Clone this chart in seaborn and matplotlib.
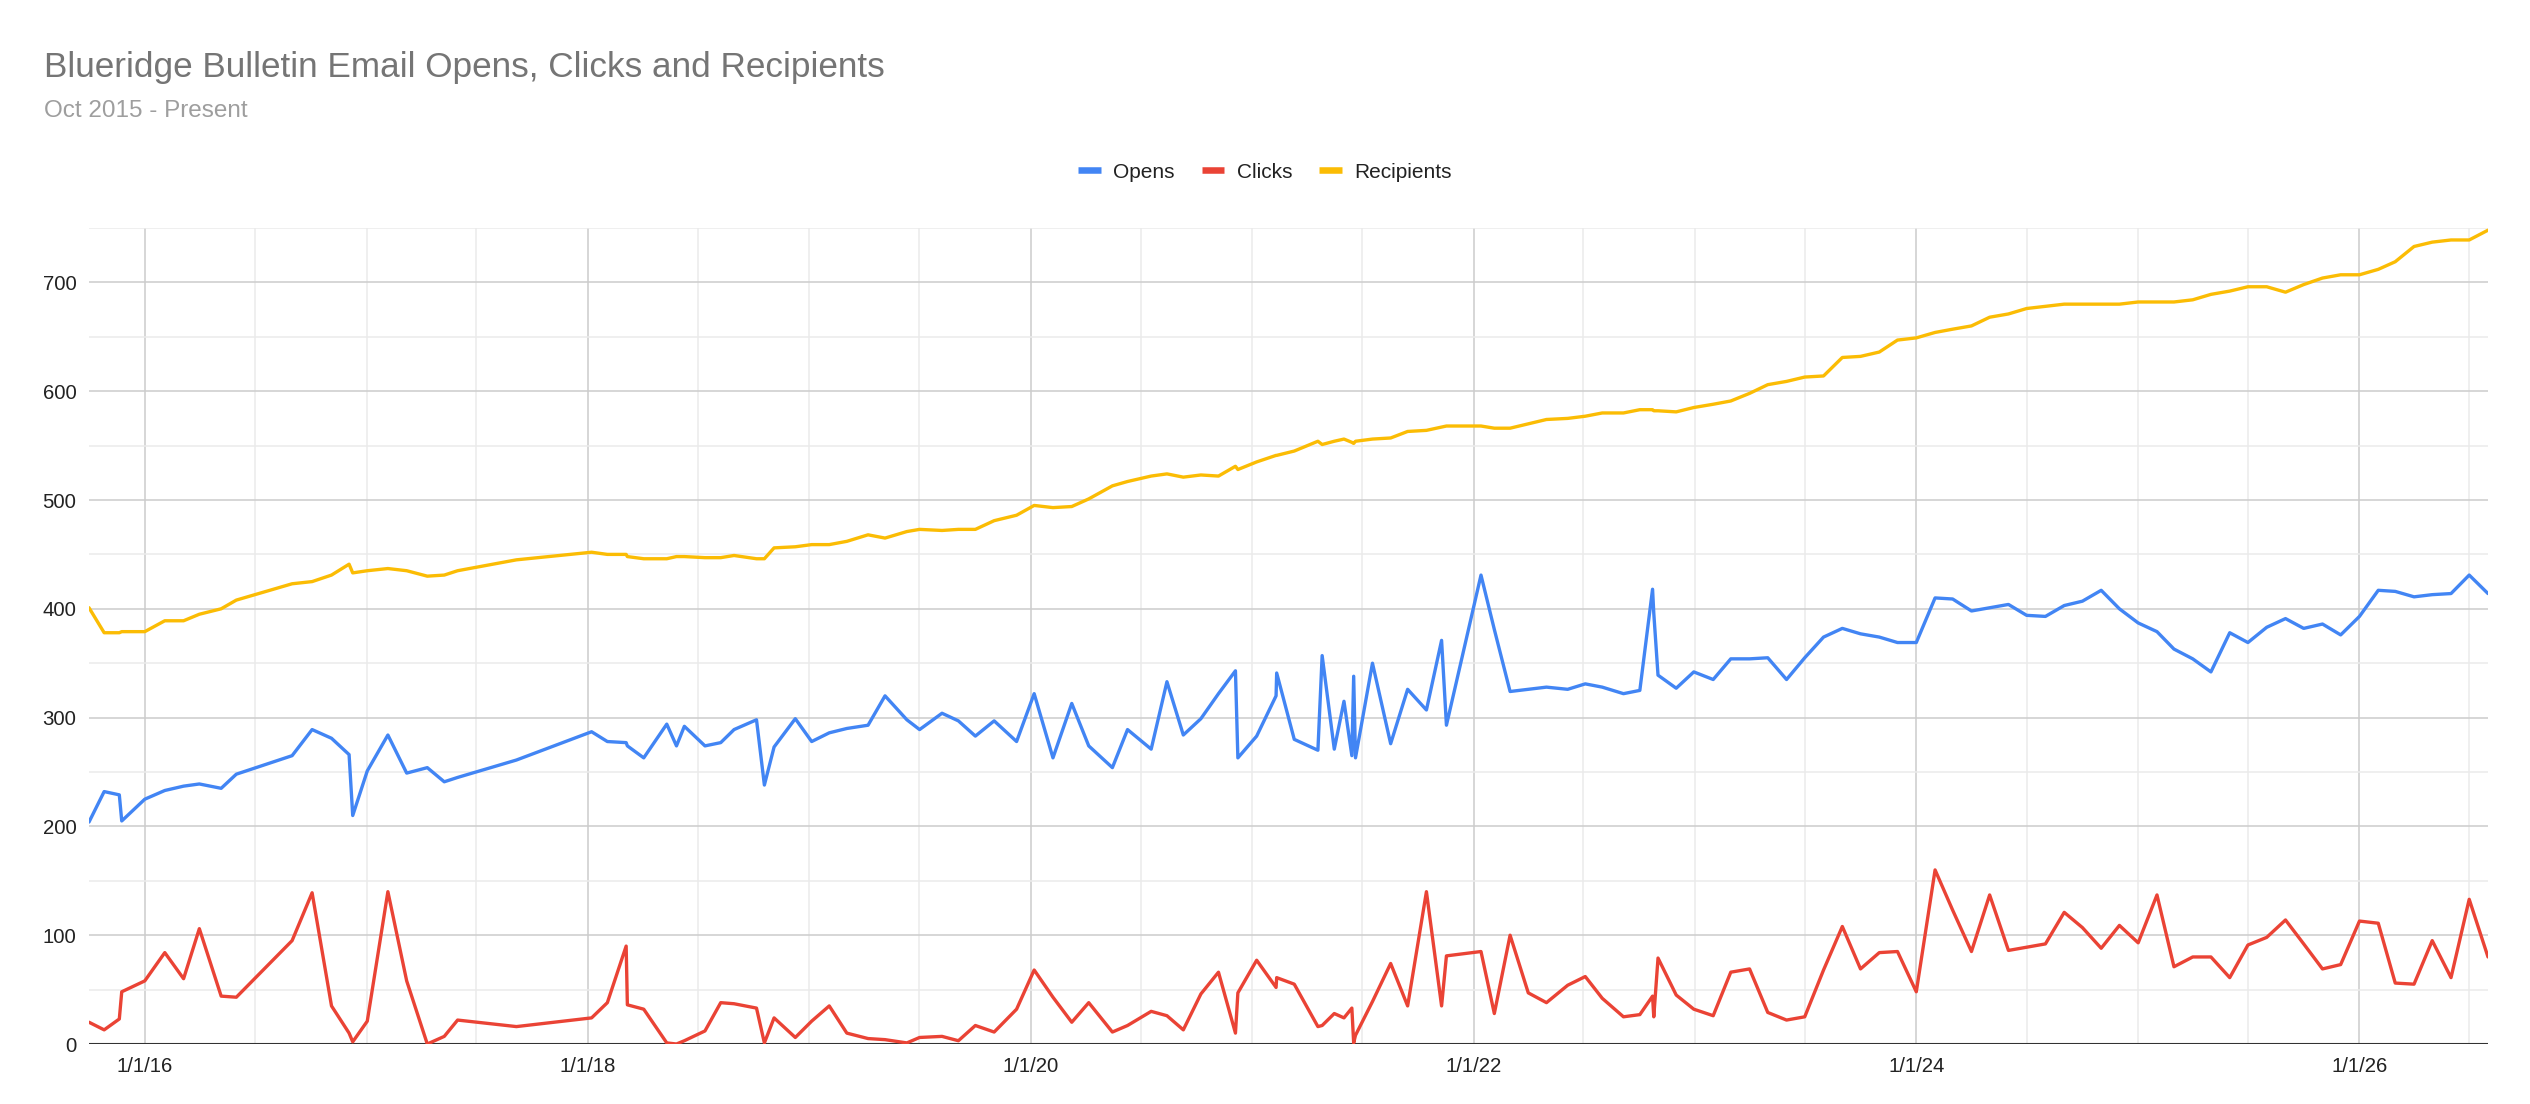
import matplotlib
matplotlib.use("Agg")
import matplotlib.pyplot as plt
import matplotlib.dates as mdates
from matplotlib.ticker import MultipleLocator, FuncFormatter, NullFormatter
from matplotlib.lines import Line2D
import seaborn as sns
import pandas as pd

# ---------------- data ----------------
title = "Blueridge Bulletin Email Opens, Clicks and Recipients"
subtitle = "Oct 2015 - Present"
series_names = ["Opens", "Clicks", "Recipients"]
series_colors = ["#4285F4", "#EA4335", "#FBBC04"]

dates = [
    "2015-10-01", "2015-10-26", "2015-11-20", "2015-11-24", "2016-01-01", "2016-02-03", "2016-03-05", "2016-03-31",
    "2016-05-06", "2016-05-31", "2016-08-31", "2016-10-03", "2016-11-04", "2016-12-03", "2016-12-09", "2017-01-02",
    "2017-02-05", "2017-03-08", "2017-04-11", "2017-05-09", "2017-05-31", "2017-09-05", "2018-01-07", "2018-02-02",
    "2018-03-05", "2018-03-07", "2018-04-03", "2018-05-11", "2018-05-27", "2018-06-09", "2018-07-13", "2018-08-08",
    "2018-08-30", "2018-10-06", "2018-10-19", "2018-11-04", "2018-12-09", "2019-01-05", "2019-02-03", "2019-03-04",
    "2019-04-08", "2019-05-06", "2019-06-11", "2019-07-02", "2019-08-08", "2019-09-04", "2019-10-02", "2019-11-02",
    "2019-12-09", "2020-01-07", "2020-02-07", "2020-03-09", "2020-04-06", "2020-05-15", "2020-06-09", "2020-07-18",
    "2020-08-13", "2020-09-09", "2020-10-08", "2020-11-06", "2020-12-04", "2020-12-08", "2021-01-08", "2021-02-09",
    "2021-02-10", "2021-03-11", "2021-04-19", "2021-04-26", "2021-05-16", "2021-06-01", "2021-06-14", "2021-06-17",
    "2021-06-20", "2021-07-18", "2021-08-17", "2021-09-14", "2021-10-15", "2021-11-09", "2021-11-17", "2022-01-13",
    "2022-02-04", "2022-03-02", "2022-04-01", "2022-05-01", "2022-06-05", "2022-07-04", "2022-08-01", "2022-09-05",
    "2022-10-02", "2022-10-23", "2022-10-25", "2022-11-01", "2022-12-01", "2022-12-30", "2023-01-31", "2023-03-01",
    "2023-04-01", "2023-05-01", "2023-06-01", "2023-07-01", "2023-08-01", "2023-09-01", "2023-10-01", "2023-11-01",
    "2023-12-01", "2024-01-01", "2024-02-01", "2024-03-01", "2024-04-01", "2024-05-01", "2024-06-01", "2024-07-01",
    "2024-08-01", "2024-09-01", "2024-10-01", "2024-11-01", "2024-12-01", "2025-01-01", "2025-02-01", "2025-03-01",
    "2025-04-01", "2025-05-01", "2025-06-01", "2025-07-01", "2025-08-01", "2025-09-01", "2025-10-01", "2025-11-01",
    "2025-12-01", "2026-01-01", "2026-02-01", "2026-03-01", "2026-04-01", "2026-05-01", "2026-06-01", "2026-07-01",
    "2026-08-01",
]

opens = [
    204, 232, 229, 205, 225, 233, 237, 239, 235, 248, 265, 289, 281, 266, 210, 251,
    284, 249, 254, 241, 245, 261, 287, 278, 277, 274, 263, 294, 274, 292, 274, 277,
    289, 298, 238, 273, 299, 278, 286, 290, 293, 320, 298, 289, 304, 297, 283, 297,
    278, 322, 263, 313, 274, 254, 289, 271, 333, 284, 299, 322, 343, 263, 283, 320,
    341, 280, 270, 357, 271, 315, 265, 338, 263, 350, 276, 326, 307, 371, 293, 431,
    381, 324, 326, 328, 326, 331, 328, 322, 325, 418, 396, 339, 327, 342, 335, 354,
    354, 355, 335, 355, 374, 382, 377, 374, 369, 369, 410, 409, 398, 401, 404, 394,
    393, 403, 407, 417, 400, 387, 379, 363, 354, 342, 378, 369, 383, 391, 382, 386,
    376, 393, 417, 416, 411, 413, 414, 431, 414,
]

clicks = [
    20, 13, 23, 48, 58, 84, 60, 106, 44, 43, 95, 139, 35, 10, 2, 21,
    140, 58, 0, 7, 22, 16, 24, 38, 90, 36, 32, 1, 0, 3, 12, 38,
    37, 33, 1, 24, 6, 21, 35, 10, 5, 4, 1, 6, 7, 3, 17, 11,
    32, 68, 43, 20, 38, 11, 17, 30, 26, 13, 46, 66, 10, 47, 77, 52,
    61, 55, 16, 17, 28, 24, 33, 1, 8, 39, 74, 35, 140, 35, 81, 85,
    28, 100, 47, 38, 54, 62, 42, 25, 27, 44, 25, 79, 45, 32, 26, 66,
    69, 29, 22, 25, 68, 108, 69, 84, 85, 48, 160, 123, 85, 137, 86, 89,
    92, 121, 107, 88, 109, 93, 137, 71, 80, 80, 61, 91, 98, 114, 92, 69,
    73, 113, 111, 56, 55, 95, 61, 133, 80,
]

recipients = [
    401, 378, 378, 379, 379, 389, 389, 395, 400, 408, 423, 425, 431, 441, 433, 435,
    437, 435, 430, 431, 435, 445, 452, 450, 450, 448, 446, 446, 448, 448, 447, 447,
    449, 446, 446, 456, 457, 459, 459, 462, 468, 465, 471, 473, 472, 473, 473, 481,
    486, 495, 493, 494, 501, 513, 517, 522, 524, 521, 523, 522, 531, 528, 535, 541,
    541, 545, 554, 551, 554, 556, 553, 552, 554, 556, 557, 563, 564, 567, 568, 568,
    566, 566, 570, 574, 575, 577, 580, 580, 583, 583, 582, 582, 581, 585, 588, 591,
    598, 606, 609, 613, 614, 631, 632, 636, 647, 649, 654, 657, 660, 668, 671, 676,
    678, 680, 680, 680, 680, 682, 682, 682, 684, 689, 692, 696, 696, 691, 698, 704,
    707, 707, 712, 719, 733, 737, 739, 739, 748,
]

y_max = 750

# ---------------- figure ----------------
sns.set_theme(style="white")
plt.rcParams["font.family"] = ["Liberation Sans", "DejaVu Sans"]

W, H = 2530, 1104
fig = plt.figure(figsize=(W / 100, H / 100), dpi=100)
fig.patch.set_facecolor("white")

left_px, right_px, top_px, bottom_px = 89, 2488, 228, 1044
ax = fig.add_axes([left_px / W, 1 - bottom_px / H,
                   (right_px - left_px) / W, (bottom_px - top_px) / H])

df = pd.DataFrame({"date": pd.to_datetime(dates), "Opens": opens,
                   "Clicks": clicks, "Recipients": recipients})
long = df.melt(id_vars="date", var_name="series", value_name="value")

sns.lineplot(data=long, x="date", y="value", hue="series",
             hue_order=series_names, palette=series_colors,
             linewidth=2.4, estimator=None, sort=False, ax=ax, legend=False,
             zorder=3)

ax.set_xlim(df["date"].min(), df["date"].max())
ax.set_ylim(0, y_max)

ax.yaxis.set_major_locator(MultipleLocator(100))
ax.yaxis.set_minor_locator(MultipleLocator(50))
ax.xaxis.set_major_locator(mdates.YearLocator(base=2, month=1, day=1))
ax.xaxis.set_minor_locator(mdates.MonthLocator(bymonth=[1, 7]))


def fmt_date(x, pos=None):
    d = mdates.num2date(x)
    return f"{d.month}/{d.day}/{d.strftime('%y')}"


ax.xaxis.set_major_formatter(FuncFormatter(fmt_date))
ax.xaxis.set_minor_formatter(NullFormatter())

ax.grid(which="major", axis="both", color="#cccccc", linewidth=1.1)
ax.grid(which="minor", axis="both", color="#ebebeb", linewidth=1.1)
ax.set_axisbelow(True)
ax.axhline(0, color="#333333", linewidth=1.5, zorder=2)

for s in ax.spines.values():
    s.set_visible(False)

ax.tick_params(axis="both", which="both", length=0, labelsize=14.7,
               labelcolor="#222222")
ax.tick_params(axis="y", pad=9)
ax.tick_params(axis="x", pad=9)
ax.set_xlabel("")
ax.set_ylabel("")

# title & subtitle
fig.text(43.5 / W, 1 - 67.5 / H, title, fontsize=25.3, color="#757575",
         ha="left", va="center")
fig.text(43.5 / W, 1 - 111 / H, subtitle, fontsize=17.5, color="#9e9e9e",
         ha="left", va="center")

# legend
handles = [Line2D([0], [0], color=c, linewidth=4.7, solid_capstyle="butt")
           for c in series_colors]
fig.legend(handles, series_names, loc="center", bbox_to_anchor=(0.5, 1 - 172 / H),
           ncol=3, frameon=False, fontsize=15, handlelength=1.08,
           handletextpad=0.6, columnspacing=1.3, labelcolor="#222222")

fig.savefig("out.png", dpi=100, facecolor="white")
